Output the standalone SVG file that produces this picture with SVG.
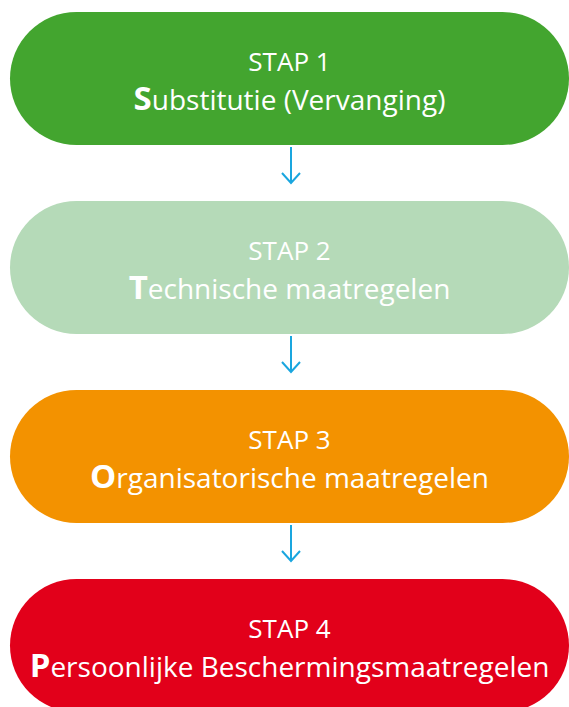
<svg xmlns="http://www.w3.org/2000/svg" width="569" height="707" viewBox="0 0 569 707">
<style>
.lbl{font-family:"Open Sans","Liberation Sans",sans-serif;fill:#ffffff;text-anchor:middle}
.t1{font-size:26px}
.t2{font-size:28px}
.big{font-weight:bold;font-size:33px}
.conn{stroke:#1aa6df;stroke-width:2;fill:none}
</style>
<g id="stap1">
<rect x="10" y="12" width="559" height="133" rx="66.5" fill="#43a52f"/>
<text class="lbl t1" x="289.5" y="71">STAP 1</text>
<text class="lbl t2" x="289.5" y="110"><tspan class="big">S</tspan>ubstitutie (Vervanging)</text>
</g>
<g id="stap2">
<rect x="10" y="201" width="559" height="133" rx="66.5" fill="#b5dab8"/>
<text class="lbl t1" x="289.5" y="260">STAP 2</text>
<text class="lbl t2" x="289.5" y="299"><tspan class="big">T</tspan>echnische maatregelen</text>
</g>
<g id="stap3">
<rect x="10" y="390" width="559" height="133" rx="66.5" fill="#f39200"/>
<text class="lbl t1" x="289.5" y="449">STAP 3</text>
<text class="lbl t2" x="289.5" y="488"><tspan class="big">O</tspan>rganisatorische maatregelen</text>
</g>
<g id="stap4">
<rect x="10" y="579" width="559" height="133" rx="66.5" fill="#e2001a"/>
<text class="lbl t1" x="289.5" y="638">STAP 4</text>
<text class="lbl t2" x="289.5" y="677"><tspan class="big">P</tspan>ersoonlijke Beschermingsmaatregelen</text>
</g>
<g id="connectors">
<path class="conn" d="M291 147 V183 M282 173 L291 183 L300 173"/>
<path class="conn" d="M291 336 V372 M282 362 L291 372 L300 362"/>
<path class="conn" d="M291 525 V561 M282 551 L291 561 L300 551"/>
</g>
</svg>
